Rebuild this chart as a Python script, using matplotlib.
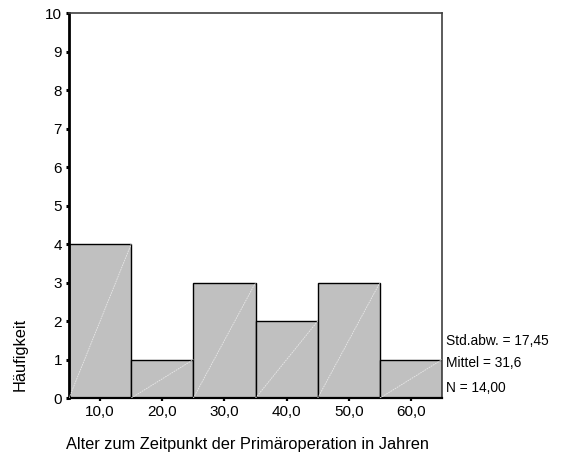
import matplotlib
matplotlib.use("Agg")
import matplotlib.pyplot as plt
import numpy as np

plt.rcParams['font.family'] = ['Liberation Sans', 'DejaVu Sans']

# histogram data
centers = [10, 20, 30, 40, 50, 60]
counts = [4, 1, 3, 2, 3, 1]
bin_width = 10
xtick_labels = ["10,0", "20,0", "30,0", "40,0", "50,0", "60,0"]
yticks = list(range(0, 11))
stats = ["Std.abw. = 17,45", "Mittel = 31,6", "N = 14,00"]

fig = plt.figure(figsize=(5.61, 4.70), dpi=100)
ax = fig.add_axes([0.123, 0.153, 0.665, 0.819])

ax.bar(centers, counts, width=bin_width, color="#c0c0c0",
       edgecolor="black", linewidth=1.0, zorder=2)

# faint diagonals inside each bar (SPSS style)
for c, n in zip(centers, counts):
    ax.plot([c - bin_width / 2, c + bin_width / 2], [0, n],
            color="#e8e8e8", lw=0.6, ls=(0, (2, 1)), zorder=3)

ax.set_xlim(centers[0] - bin_width / 2, centers[-1] + bin_width / 2)
ax.set_ylim(0, 10)
ax.set_xticks(centers)
ax.set_xticklabels(xtick_labels, fontsize=11)
ax.set_yticks(yticks)
ax.set_yticklabels([str(v) for v in yticks], fontsize=11)
ax.tick_params(axis='y', direction='out', length=2, width=2.2, pad=3)
ax.tick_params(axis='x', direction='out', length=2, width=1.6, pad=3)

ax.spines['left'].set_linewidth(2)
ax.spines['left'].set_color('black')
ax.spines['bottom'].set_linewidth(1.6)
ax.spines['bottom'].set_color('black')
ax.spines['top'].set_linewidth(1.2)
ax.spines['top'].set_color('#404040')
ax.spines['right'].set_linewidth(1.2)
ax.spines['right'].set_color('#404040')

# stats block on the right
for txt, yy in zip(stats, [341, 363, 388]):
    fig.text(446 / 561, 1 - yy / 470, txt, fontsize=9.9, va='center', ha='left')

fig.text(20 / 561, 1 - 354 / 470, "Häufigkeit", rotation=90,
         fontsize=11.8, va='center', ha='center')
fig.text(248 / 561, 1 - 445 / 470, "Alter zum Zeitpunkt der Primäroperation in Jahren",
         fontsize=11.8, va='center', ha='center')

fig.savefig("out.png", dpi=100)
